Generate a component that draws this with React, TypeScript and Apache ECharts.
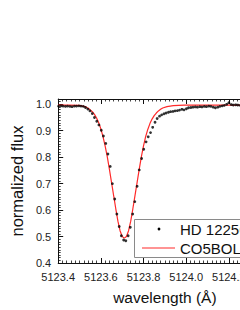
import React, { useEffect, useRef } from "react";
import * as echarts from "echarts";

// Observed spectrum (HD 122563): wavelength (Å) and normalized flux
const obsWave = [
  5123.402, 5123.413, 5123.423, 5123.434, 5123.444, 5123.455, 5123.465, 5123.476, 5123.486, 5123.497,
  5123.507, 5123.518, 5123.528, 5123.539, 5123.549, 5123.560, 5123.570, 5123.581, 5123.591, 5123.602,
  5123.612, 5123.623, 5123.633, 5123.644, 5123.654, 5123.665, 5123.675, 5123.686, 5123.696, 5123.707,
  5123.717, 5123.728, 5123.738, 5123.749, 5123.759, 5123.770, 5123.780, 5123.791, 5123.801, 5123.812,
  5123.822, 5123.833, 5123.843, 5123.854, 5123.864, 5123.875, 5123.885, 5123.896, 5123.906, 5123.917,
  5123.927, 5123.938, 5123.948, 5123.959, 5123.969, 5123.980, 5123.990, 5124.001, 5124.011, 5124.022,
  5124.032, 5124.043, 5124.053, 5124.064, 5124.074, 5124.085, 5124.095, 5124.106, 5124.116, 5124.127,
  5124.137, 5124.148, 5124.158, 5124.169, 5124.179, 5124.190, 5124.200, 5124.211, 5124.221, 5124.232,
  5124.242, 5124.253, 5124.263, 5124.274, 5124.284, 5124.295, 5124.305, 5124.316, 5124.326, 5124.337,
  5124.347, 5124.358, 5124.368, 5124.379, 5124.389, 5124.400,
];
const obsFlux = [
  0.993, 0.994, 0.993, 0.992, 0.993, 0.992, 0.991, 0.993, 0.993, 0.994,
  0.993, 0.992, 0.988, 0.982, 0.975, 0.965, 0.950, 0.936, 0.922, 0.902,
  0.880, 0.852, 0.812, 0.765, 0.700, 0.642, 0.585, 0.538, 0.503, 0.487,
  0.484, 0.503, 0.535, 0.585, 0.632, 0.690, 0.752, 0.795, 0.830, 0.858,
  0.877, 0.893, 0.913, 0.932, 0.946, 0.955, 0.960, 0.964, 0.967, 0.970,
  0.972, 0.973, 0.975, 0.976, 0.978, 0.981, 0.979, 0.983, 0.987, 0.988,
  0.989, 0.990, 0.989, 0.991, 0.990, 0.992, 0.991, 0.993, 0.992, 0.989,
  0.987, 0.989, 0.992, 0.994, 0.996, 1.000, 1.006, 0.999, 0.997, 0.998,
  0.997, 0.996, 0.997, 0.995, 0.996, 0.997, 0.995, 0.996, 0.997, 0.996,
  0.995, 0.997, 0.996, 0.997, 0.996, 0.997,
];

// CO5BOLD model profile
const modelWave = [
  5123.40, 5123.45, 5123.50, 5123.53, 5123.54, 5123.55, 5123.56, 5123.57, 5123.58, 5123.59,
  5123.60, 5123.61, 5123.62, 5123.63, 5123.64, 5123.65, 5123.66, 5123.67, 5123.68, 5123.69,
  5123.70, 5123.71, 5123.72, 5123.73, 5123.74, 5123.75, 5123.76, 5123.77, 5123.78, 5123.79,
  5123.80, 5123.81, 5123.82, 5123.83, 5123.84, 5123.85, 5123.86, 5123.87, 5123.88, 5123.89,
  5123.91, 5123.94, 5123.99, 5124.40,
];
const modelFlux = [
  0.997, 0.997, 0.996, 0.990, 0.985, 0.979, 0.972, 0.962, 0.948, 0.930,
  0.907, 0.878, 0.843, 0.802, 0.755, 0.705, 0.655, 0.605, 0.558, 0.522,
  0.500, 0.494, 0.500, 0.522, 0.558, 0.605, 0.655, 0.705, 0.755, 0.802,
  0.843, 0.878, 0.905, 0.927, 0.944, 0.957, 0.967, 0.975, 0.981, 0.986,
  0.991, 0.995, 0.997, 0.997,
];

const seriesNames = ["HD 122563", "CO5BOLD"];
const xTitle = "wavelength (Å)";
const yTitle = "normalized flux";

const FONT = "'Liberation Sans', Arial, Helvetica, sans-serif";

export default function App() {
  const ref = useRef<HTMLDivElement>(null);

  useEffect(() => {
    if (!ref.current) return;
    const chart = echarts.init(ref.current, undefined, { renderer: "svg" });

    const xLabelFmt = (v: number) => v.toFixed(1);
    const yLabelFmt = (v: number) =>
      Math.abs(v * 10 - Math.round(v * 10)) > 1e-6 ? "" : v.toFixed(1);

    const axisLine = { show: true, lineStyle: { color: "#111", width: 1 } };
    const tick = { show: true, inside: true, length: 5, lineStyle: { color: "#111", width: 1 } };
    const minor = { show: true, splitNumber: 10, length: 2.5, lineStyle: { color: "#111", width: 0.8 } };

    const xCommon = {
      type: "value" as const,
      min: 5123.4,
      max: 5124.4,
      interval: 0.2,
      axisLine,
      axisTick: tick,
      minorTick: minor,
      splitLine: { show: false },
      minorSplitLine: { show: false },
    };
    const yCommon = {
      type: "value" as const,
      min: 0.4,
      max: 1.02,
      interval: 0.1,
      axisLine,
      axisTick: tick,
      minorTick: minor,
      splitLine: { show: false },
      minorSplitLine: { show: false },
    };

    chart.setOption({
      animation: false,
      backgroundColor: "#fff",
      textStyle: { fontFamily: FONT },
      grid: { left: 48, top: 99, width: 223.5, height: 166.8, containLabel: false },
      xAxis: [
        {
          ...xCommon,
          position: "bottom",
          name: xTitle,
          nameLocation: "middle",
          nameGap: 26,
          nameTextStyle: { fontSize: 15.5, color: "#111", fontFamily: FONT },
          axisLabel: { formatter: xLabelFmt, fontSize: 11, color: "#222", margin: 8, fontFamily: FONT },
        },
        {
          ...xCommon,
          position: "top",
          axisLabel: { show: false },
        },
      ],
      yAxis: [
        {
          ...yCommon,
          position: "left",
          name: yTitle,
          nameLocation: "middle",
          nameGap: 27,
          nameTextStyle: { fontSize: 16.5, color: "#111", fontFamily: FONT },
          axisLabel: { formatter: yLabelFmt, fontSize: 11, color: "#222", margin: 7, fontFamily: FONT },
        },
        {
          ...yCommon,
          position: "right",
          axisLabel: { show: false },
        },
      ],
      series: [
        {
          name: seriesNames[1],
          type: "line",
          data: modelWave.map((w, i) => [w, modelFlux[i]]),
          showSymbol: false,
          symbol: "none",
          lineStyle: { color: "#ff2a2a", width: 1.2 },
          z: 2,
        },
        {
          name: seriesNames[0],
          type: "scatter",
          data: obsWave.map((w, i) => [w, obsFlux[i]]),
          symbol: "circle",
          symbolSize: 2.8,
          itemStyle: { color: "#000" },
          z: 3,
        },
      ],
      graphic: [
        {
          type: "group",
          z: 100,
          children: [
            {
              type: "rect",
              shape: { x: 134.5, y: 219.5, width: 140, height: 38 },
              style: { fill: "#fff", stroke: "#8a8a8a", lineWidth: 1 },
            },
            {
              type: "circle",
              shape: { cx: 159, cy: 229, r: 1.4 },
              style: { fill: "#000" },
            },
            {
              type: "line",
              shape: { x1: 142, y1: 248, x2: 175, y2: 248 },
              style: { stroke: "#ff2a2a", lineWidth: 1.2 },
            },
            {
              type: "text",
              x: 180,
              y: 229,
              style: {
                text: seriesNames[0],
                fontSize: 15,
                fontFamily: FONT,
                fill: "#111",
                verticalAlign: "middle",
                align: "left",
              },
            },
            {
              type: "text",
              x: 180,
              y: 248,
              style: {
                text: seriesNames[1],
                fontSize: 15,
                fontFamily: FONT,
                fill: "#111",
                verticalAlign: "middle",
                align: "left",
              },
            },
          ],
        },
      ],
    });

    return () => chart.dispose();
  }, []);

  return (
    <div
      ref={ref}
      style={{ position: "fixed", left: 0, top: 0, width: 300, height: 310, background: "#fff" }}
    />
  );
}
